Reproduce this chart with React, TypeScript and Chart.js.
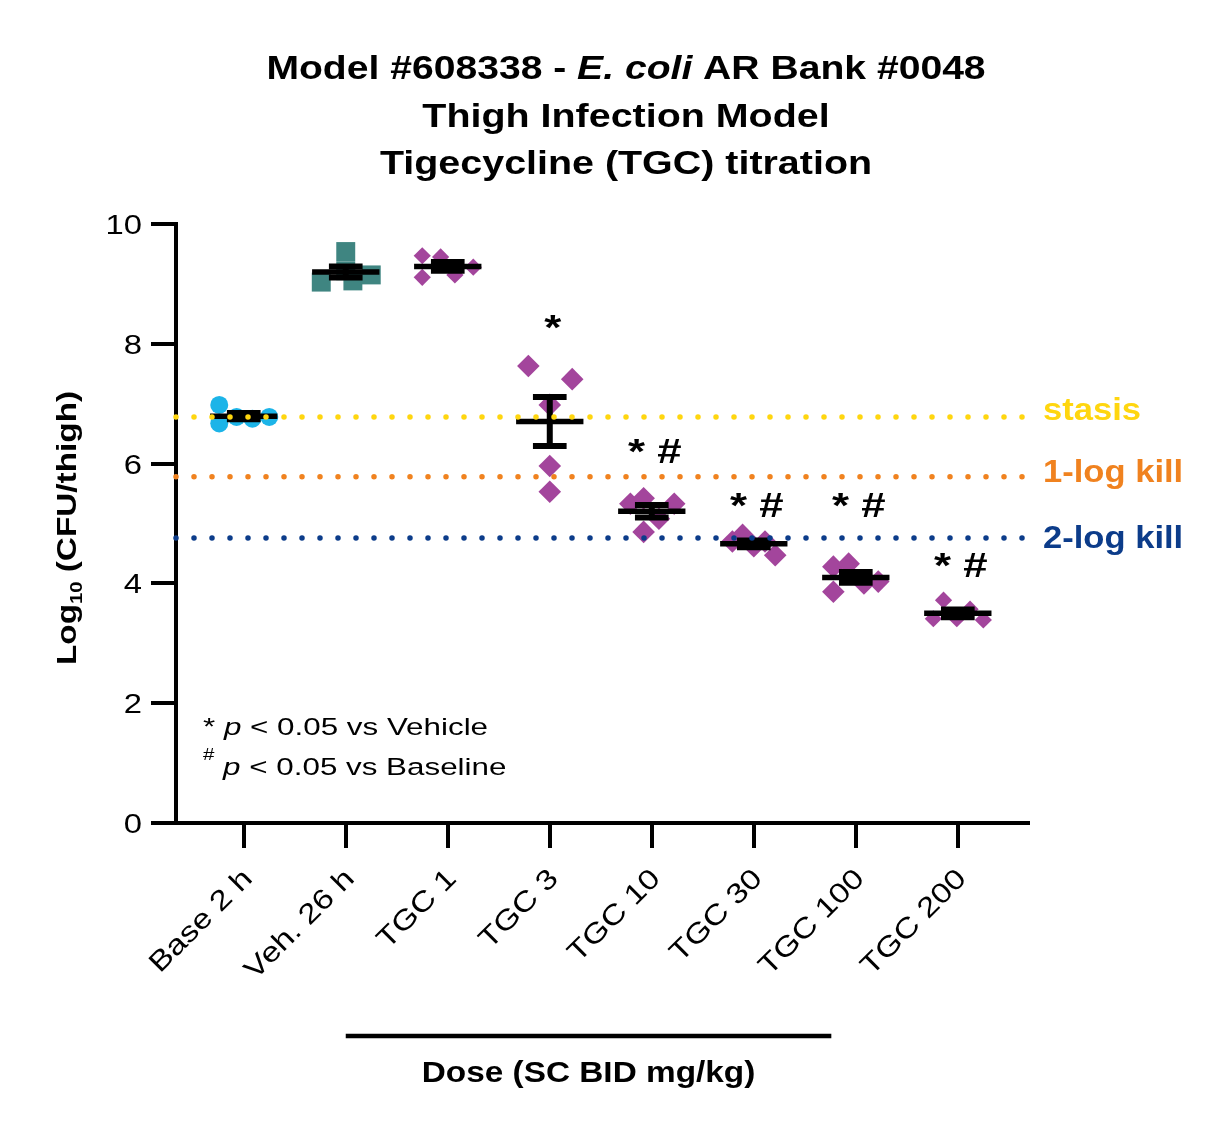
import React, { useEffect, useRef } from 'react';
import { Chart, registerables } from 'chart.js';

Chart.register(...registerables);

// ---------------- data ----------------
const categories = ['Base 2 h', 'Veh. 26 h', 'TGC 1', 'TGC 3', 'TGC 10', 'TGC 30', 'TGC 100', 'TGC 200'];

const baseValues = [6.98, 6.67, 6.78, 6.75, 6.78];
const vehValues = [9.54, 9.03, 9.05, 9.15, 9.22];
const tgc1Values = [9.47, 9.45, 9.11, 9.15, 9.28];
const tgc3Values = [7.63, 7.41, 6.98, 5.96, 5.53];
const tgc10Values = [5.33, 5.42, 5.33, 4.86, 5.08];
const tgc30Values = [4.70, 4.81, 4.62, 4.70, 4.47];
const tgc100Values = [4.28, 4.33, 3.86, 4.00, 4.03];
const tgc200Values = [3.72, 3.41, 3.41, 3.57, 3.39];

// horizontal scatter offsets of the points within each column (category units)
const baseJitter = [-0.24, -0.24, -0.07, 0.085, 0.25];
const vehJitter = [0, -0.24, 0.07, 0.25, 0];
const tgc1Jitter = [-0.25, -0.07, -0.25, 0.07, 0.25];
const tgc3Jitter = [-0.21, 0.22, 0, 0, 0];
const tgc10Jitter = [-0.21, -0.08, 0.22, -0.08, 0.07];
const tgc30Jitter = [-0.21, -0.11, 0, 0.11, 0.21];
const tgc100Jitter = [-0.22, -0.07, -0.22, 0.08, 0.22];
const tgc200Jitter = [-0.14, -0.24, -0.01, 0.12, 0.25];

const yTicks = [0, 2, 4, 6, 8, 10];

const refLabels = ['stasis', '1-log kill', '2-log kill'];
const refLevels = [6.78, 5.78, 4.76];

const sigLabels = ['', '', '', '*', '* #', '* #', '* #', '* #'];
const sigLevels = [null, null, null, 8.08, 6.01, 5.11, 5.11, 4.11];

const xMin = -0.664;
const xMax = 7.688;
const doseBarRange = [1, 5.76];

// ---------------- styles ----------------
const FONT = "'Liberation Sans', Arial, Helvetica, sans-serif";
const BLUE = '#1CB4E8';
const TEAL = '#3F8581';
const PURPLE = '#A3459C';
const groupColors = [BLUE, TEAL, PURPLE, PURPLE, PURPLE, PURPLE, PURPLE, PURPLE];
const groupStyles = ['circle', 'rect', 'rectRot', 'rectRot', 'rectRot', 'rectRot', 'rectRot', 'rectRot'];
const groupRadii = [9, 13.4, 8.6, 11.3, 11.3, 11.3, 11.3, 8.6];
const refColors = ['#FFD60F', '#F0821F', '#0C3C8A'];
const refLabelDy = [3, 5, 10];

const groupValues = [baseValues, vehValues, tgc1Values, tgc3Values, tgc10Values, tgc30Values, tgc100Values, tgc200Values];
const groupJitter = [baseJitter, vehJitter, tgc1Jitter, tgc3Jitter, tgc10Jitter, tgc30Jitter, tgc100Jitter, tgc200Jitter];

const mean = (a: number[]) => a.reduce((s, v) => s + v, 0) / a.length;
const sem = (a: number[]) => {
  const m = mean(a);
  const sd = Math.sqrt(a.reduce((s, v) => s + (v - m) * (v - m), 0) / (a.length - 1));
  return sd / Math.sqrt(a.length);
};

const MEAN_HALF = 0.33;
const CAP_HALF = 0.165;

type Seg = { text: string; font: string; dy?: number };

function drawSegs(
  ctx: CanvasRenderingContext2D,
  segs: Seg[],
  x: number,
  y: number,
  align: 'left' | 'center' | 'right',
  sx: number,
  color: string,
  rotate = 0
) {
  ctx.save();
  ctx.translate(x, y);
  if (rotate) ctx.rotate(rotate);
  ctx.scale(sx, 1);
  ctx.fillStyle = color;
  ctx.textBaseline = 'alphabetic';
  ctx.textAlign = 'left';
  let total = 0;
  const widths = segs.map((s) => {
    ctx.font = s.font;
    const w = ctx.measureText(s.text).width;
    total += w;
    return w;
  });
  let cx = align === 'left' ? 0 : align === 'center' ? -total / 2 : -total;
  segs.forEach((s, i) => {
    ctx.font = s.font;
    ctx.fillText(s.text, cx, s.dy || 0);
    cx += widths[i];
  });
  ctx.restore();
}

const textPlugin = {
  id: 'textPlugin',
  afterDraw(chart: any) {
    const ctx: CanvasRenderingContext2D = chart.ctx;
    const xs = chart.scales.x;
    const ys = chart.scales.y;

    // title
    const tf = `bold 32.6px ${FONT}`;
    drawSegs(ctx, [
      { text: 'Model #608338 - ', font: tf },
      { text: 'E. coli', font: `italic bold 32.6px ${FONT}` },
      { text: ' AR Bank #0048', font: tf },
    ], 626, 79, 'center', 1.2, '#000');
    drawSegs(ctx, [{ text: 'Thigh Infection Model', font: tf }], 626, 127, 'center', 1.21, '#000');
    drawSegs(ctx, [{ text: 'Tigecycline (TGC) titration', font: tf }], 626, 174, 'center', 1.21, '#000');

    // y tick labels
    yTicks.forEach((v) => {
      drawSegs(ctx, [{ text: String(v), font: `28px ${FONT}` }], 142, ys.getPixelForValue(v) + 10, 'right', 1.17, '#000');
    });

    // x tick labels (rotated 45°)
    categories.forEach((c, i) => {
      const px = xs.getPixelForValue(i);
      drawSegs(ctx, [{ text: c, font: `28px ${FONT}` }], px + 10, 880, 'right', 1.2, '#000', -Math.PI / 4);
    });

    // y title
    drawSegs(ctx, [
      { text: 'Log', font: `bold 28px ${FONT}` },
      { text: '10', font: `bold 17px ${FONT}`, dy: 6 },
      { text: ' (CFU/thigh)', font: `bold 28px ${FONT}` },
    ], 76, 528, 'center', 1.19, '#000', -Math.PI / 2);

    // dose bar + label
    const bx0 = xs.getPixelForValue(doseBarRange[0]);
    const bx1 = xs.getPixelForValue(doseBarRange[1]);
    ctx.save();
    ctx.strokeStyle = '#000';
    ctx.lineWidth = 4.5;
    ctx.beginPath();
    ctx.moveTo(bx0, 1036);
    ctx.lineTo(bx1, 1036);
    ctx.stroke();
    ctx.restore();
    drawSegs(ctx, [{ text: 'Dose (SC BID mg/kg)', font: `bold 29px ${FONT}` }], (bx0 + bx1) / 2, 1082, 'center', 1.15, '#000');

    // reference labels
    refLabels.forEach((t, i) => {
      drawSegs(ctx, [{ text: t, font: `bold 32px ${FONT}` }], 1043, ys.getPixelForValue(refLevels[i]) + refLabelDy[i], 'left', 1.08, refColors[i]);
    });

    // significance marks
    sigLabels.forEach((t, i) => {
      const lv = sigLevels[i];
      if (!t || lv === null) return;
      drawSegs(ctx, [{ text: t, font: `bold 35px ${FONT}` }], xs.getPixelForValue(i) + 3, ys.getPixelForValue(lv), 'center', 1.25, '#000');
    });

    // footnotes
    const ff = `24.5px ${FONT}`;
    const fi = `italic 24.5px ${FONT}`;
    drawSegs(ctx, [
      { text: '* ', font: ff },
      { text: 'p', font: fi },
      { text: ' < 0.05 vs Vehicle', font: ff },
    ], 203, 735, 'left', 1.28, '#000');
    drawSegs(ctx, [
      { text: '#', font: `16px ${FONT}`, dy: -15 },
      { text: ' ', font: ff },
      { text: 'p', font: fi },
      { text: ' < 0.05 vs Baseline', font: ff },
    ], 203, 775, 'left', 1.28, '#000');
  },
};

function buildDatasets() {
  const ds: any[] = [];
  // points
  groupValues.forEach((vals, i) => {
    ds.push({
      label: categories[i],
      data: vals.map((v, j) => ({ x: i + groupJitter[i][j], y: v })),
      pointStyle: groupStyles[i],
      pointRadius: groupRadii[i],
      pointHoverRadius: groupRadii[i],
      backgroundColor: groupColors[i],
      borderWidth: 0,
      pointBorderWidth: 0,
      showLine: false,
      order: 3,
      clip: false,
    });
  });
  // mean lines + SEM error bars
  const meanData: any[] = [];
  const errData: any[] = [];
  groupValues.forEach((vals, i) => {
    const m = mean(vals);
    const s = sem(vals);
    meanData.push({ x: i - MEAN_HALF, y: m }, { x: i + MEAN_HALF, y: m }, { x: i + 0.4, y: null });
    errData.push(
      { x: i - CAP_HALF, y: m + s }, { x: i + CAP_HALF, y: m + s }, { x: i + 0.3, y: null },
      { x: i - CAP_HALF, y: m - s }, { x: i + CAP_HALF, y: m - s }, { x: i + 0.3, y: null },
      { x: i, y: m - s }, { x: i, y: m + s }, { x: i + 0.3, y: null }
    );
  });
  ds.push({
    label: 'mean',
    data: meanData,
    showLine: true,
    spanGaps: false,
    borderColor: '#000',
    borderWidth: 5.5,
    borderCapStyle: 'butt',
    pointRadius: 0,
    order: 2,
    clip: false,
  });
  ds.push({
    label: 'sem',
    data: errData,
    showLine: true,
    spanGaps: false,
    borderColor: '#000',
    borderWidth: 6,
    borderCapStyle: 'butt',
    pointRadius: 0,
    order: 2,
    clip: false,
  });
  // reference dotted lines
  refLevels.forEach((lv, i) => {
    ds.push({
      label: refLabels[i],
      data: [{ x: xMin, y: lv }, { x: xMax, y: lv }],
      showLine: true,
      borderColor: refColors[i],
      borderWidth: 5.5,
      borderDash: [0, 18],
      borderCapStyle: 'round',
      pointRadius: 0,
      order: 1,
      clip: false,
    });
  });
  return ds;
}

export default function App() {
  const ref = useRef<HTMLCanvasElement>(null);
  useEffect(() => {
    if (!ref.current) return;
    const chart = new Chart(ref.current, {
      type: 'scatter',
      data: { datasets: buildDatasets() },
      options: {
        animation: false,
        responsive: false,
        events: [],
        layout: { padding: { top: 224, right: 195, left: 0, bottom: 0 } },
        plugins: {
          legend: { display: false },
          tooltip: { enabled: false },
          title: { display: false },
        },
        scales: {
          x: {
            type: 'linear',
            min: xMin,
            max: xMax,
            afterBuildTicks: (scale: any) => {
              scale.ticks = categories.map((_, i) => ({ value: i }));
            },
            afterFit: (scale: any) => {
              scale.height = 312;
            },
            ticks: { display: false },
            grid: {
              drawOnChartArea: false,
              drawTicks: true,
              tickLength: 25,
              tickWidth: 4,
              tickColor: '#000',
              color: '#000',
              lineWidth: 4,
            },
            border: { display: true, color: '#000', width: 4 },
          },
          y: {
            type: 'linear',
            min: 0,
            max: 10,
            afterBuildTicks: (scale: any) => {
              scale.ticks = yTicks.map((v) => ({ value: v }));
            },
            afterFit: (scale: any) => {
              scale.width = 176;
            },
            ticks: { display: false },
            grid: {
              drawOnChartArea: false,
              drawTicks: true,
              tickLength: 25,
              tickWidth: 4,
              tickColor: '#000',
              color: '#000',
              lineWidth: 4,
            },
            border: { display: true, color: '#000', width: 4 },
          },
        },
      } as any,
      plugins: [textPlugin],
    });
    return () => chart.destroy();
  }, []);
  return (
    <div style={{ position: 'absolute', left: 0, top: 0, width: 1223, height: 1135, background: '#fff' }}>
      <canvas ref={ref} width={1223} height={1135} style={{ width: 1223, height: 1135, display: 'block' }} />
    </div>
  );
}
